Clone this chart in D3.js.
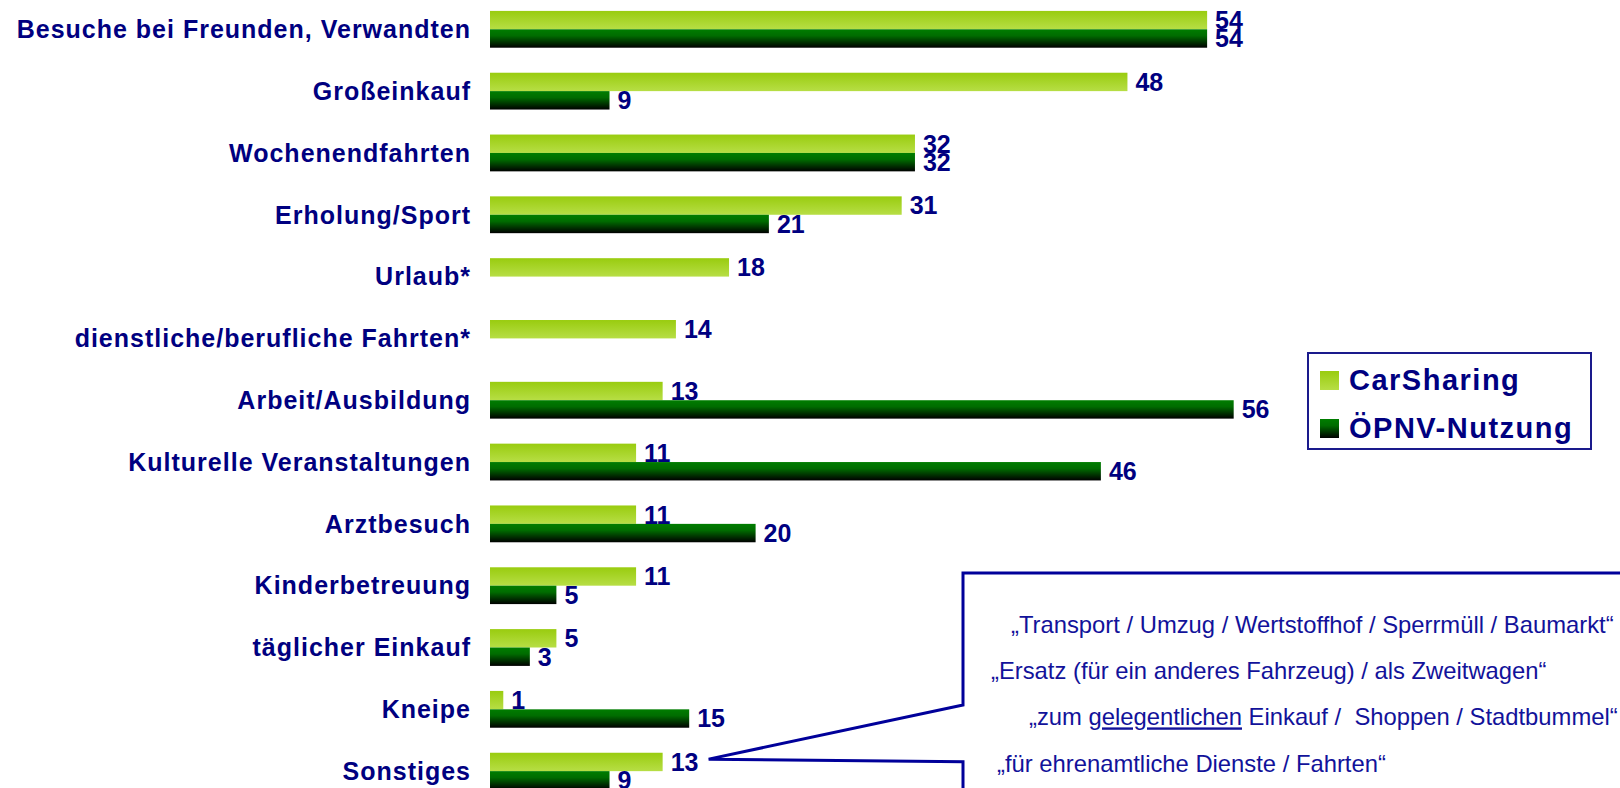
<!DOCTYPE html>
<html>
<head>
<meta charset="utf-8">
<script src="https://cdn.jsdelivr.net/npm/d3@7"></script>
<style>
  body { margin: 0; background: #fff; }
  svg { display: block; }
  text { font-family: "Liberation Sans", Arial, sans-serif; }
</style>
</head>
<body>
<div id="chart"></div>
<script>
var categories = ["Besuche bei Freunden, Verwandten", "Großeinkauf", "Wochenendfahrten", "Erholung/Sport",
  "Urlaub*", "dienstliche/berufliche Fahrten*", "Arbeit/Ausbildung", "Kulturelle Veranstaltungen",
  "Arztbesuch", "Kinderbetreuung", "täglicher Einkauf", "Kneipe", "Sonstiges"];
var carSharing = [54, 48, 32, 31, 18, 14, 13, 11, 11, 11, 5, 1, 13];
var oepnv = [54, 9, 32, 21, null, null, 56, 46, 20, 5, 3, 15, 9];
var seriesNames = ["CarSharing", "ÖPNV-Nutzung"];
var calloutLines = [
  ["„Transport / Umzug / Wertstoffhof / Sperrmüll / Baumarkt“"],
  ["„Ersatz (für ein anderes Fahrzeug) / als Zweitwagen“"],
  ["„zum ", "gelegentlichen", " Einkauf /  Shoppen / Stadtbummel“"],
  ["„für ehrenamtliche Dienste / Fahrten“"]
];

var width = 1620, height = 788;
var navy = "#000080";

var svg = d3.select("#chart").append("svg")
  .attr("width", width)
  .attr("height", height);

var defs = svg.append("defs");
var gLight = defs.append("linearGradient").attr("id", "gLight")
  .attr("x1", 0).attr("y1", 0).attr("x2", 0).attr("y2", 1);
gLight.append("stop").attr("offset", "0%").attr("stop-color", "#99cc0f");
gLight.append("stop").attr("offset", "100%").attr("stop-color", "#b7de45");
var gDark = defs.append("linearGradient").attr("id", "gDark")
  .attr("x1", 0).attr("y1", 0).attr("x2", 0).attr("y2", 1);
gDark.append("stop").attr("offset", "0%").attr("stop-color", "#007d00");
gDark.append("stop").attr("offset", "35%").attr("stop-color", "#006c00");
gDark.append("stop").attr("offset", "100%").attr("stop-color", "#000000");

var x = d3.scaleLinear().domain([0, 56]).range([490, 490 + 56 * 13.28]);
var y = d3.scaleBand().domain(categories).range([-1.6, -1.6 + 13 * 61.82]);
var barH = 18.4;
var sub = d3.scaleBand().domain(seriesNames).range([0, barH * 2]);

var rows = categories.map(function(c, i) {
  return { cat: c, vals: [carSharing[i], oepnv[i]] };
});

var row = svg.selectAll(".row").data(rows).enter().append("g")
  .attr("class", "row")
  .attr("transform", function(d) { return "translate(0," + (y(d.cat) + y.bandwidth() / 2 - barH) + ")"; });

// category labels
row.append("text")
  .attr("x", 471)
  .attr("y", barH + 8.8)
  .attr("text-anchor", "end")
  .attr("font-size", 25)
  .attr("font-weight", "bold")
  .attr("letter-spacing", 1)
  .attr("fill", navy)
  .text(function(d) { return d.cat; });

var bars = row.selectAll(".bar")
  .data(function(d) {
    return d.vals.map(function(v, j) { return { s: seriesNames[j], v: v, j: j }; })
      .filter(function(e) { return e.v != null; });
  })
  .enter();

bars.append("rect")
  .attr("x", x(0))
  .attr("y", function(e) { return sub(e.s); })
  .attr("width", function(e) { return x(e.v) - x(0); })
  .attr("height", sub.bandwidth())
  .attr("fill", function(e) { return e.j === 0 ? "url(#gLight)" : "url(#gDark)"; });

bars.append("text")
  .attr("x", function(e) { return x(e.v) + 8; })
  .attr("y", function(e) { return sub(e.s) + sub.bandwidth() / 2 + 8.9; })
  .attr("font-size", 25)
  .attr("font-weight", "bold")
  .attr("fill", navy)
  .text(function(e) { return e.v; });

// legend
var legend = svg.append("g");
legend.append("rect")
  .attr("x", 1308).attr("y", 353)
  .attr("width", 283).attr("height", 96)
  .attr("fill", "#fff")
  .attr("stroke", "#1a1a8c")
  .attr("stroke-width", 2);
seriesNames.forEach(function(s, i) {
  legend.append("rect")
    .attr("x", 1320).attr("y", 371 + i * 48)
    .attr("width", 19).attr("height", 19)
    .attr("fill", i === 0 ? "url(#gLight)" : "url(#gDark)");
  legend.append("text")
    .attr("x", 1349).attr("y", 390 + i * 48)
    .attr("font-size", 29)
    .attr("font-weight", "bold")
    .attr("letter-spacing", 1.5)
    .attr("fill", navy)
    .text(s);
});

// callout for "Sonstiges"
var last = categories.length - 1;
var tipX = x(carSharing[last]) + 8 + 28 + 10;
var tipY = y(categories[last]) + y.bandwidth() / 2 - 12;
var callout = svg.append("g");
callout.append("path")
  .attr("d", "M1640,573 L963,573 L963,705 L" + tipX + "," + tipY + " L963," + (tipY + 2.5) + " L963,800")
  .attr("fill", "none")
  .attr("stroke", "#00009a")
  .attr("stroke-width", 3)
  .attr("stroke-linejoin", "miter");

var lineX = [1011, 991, 1029, 997];
calloutLines.forEach(function(parts, i) {
  var t = callout.append("text")
    .attr("x", lineX[i])
    .attr("y", 633 + i * 46.2)
    .attr("font-size", 23.8)
    .attr("fill", "#12129a")
    .attr("xml:space", "preserve")
    .style("white-space", "pre");
  parts.forEach(function(p, k) {
    var ts = t.append("tspan").text(p);
    if (i === 2 && k === 1) ts.attr("text-decoration", "underline");
  });
});
</script>
</body>
</html>
